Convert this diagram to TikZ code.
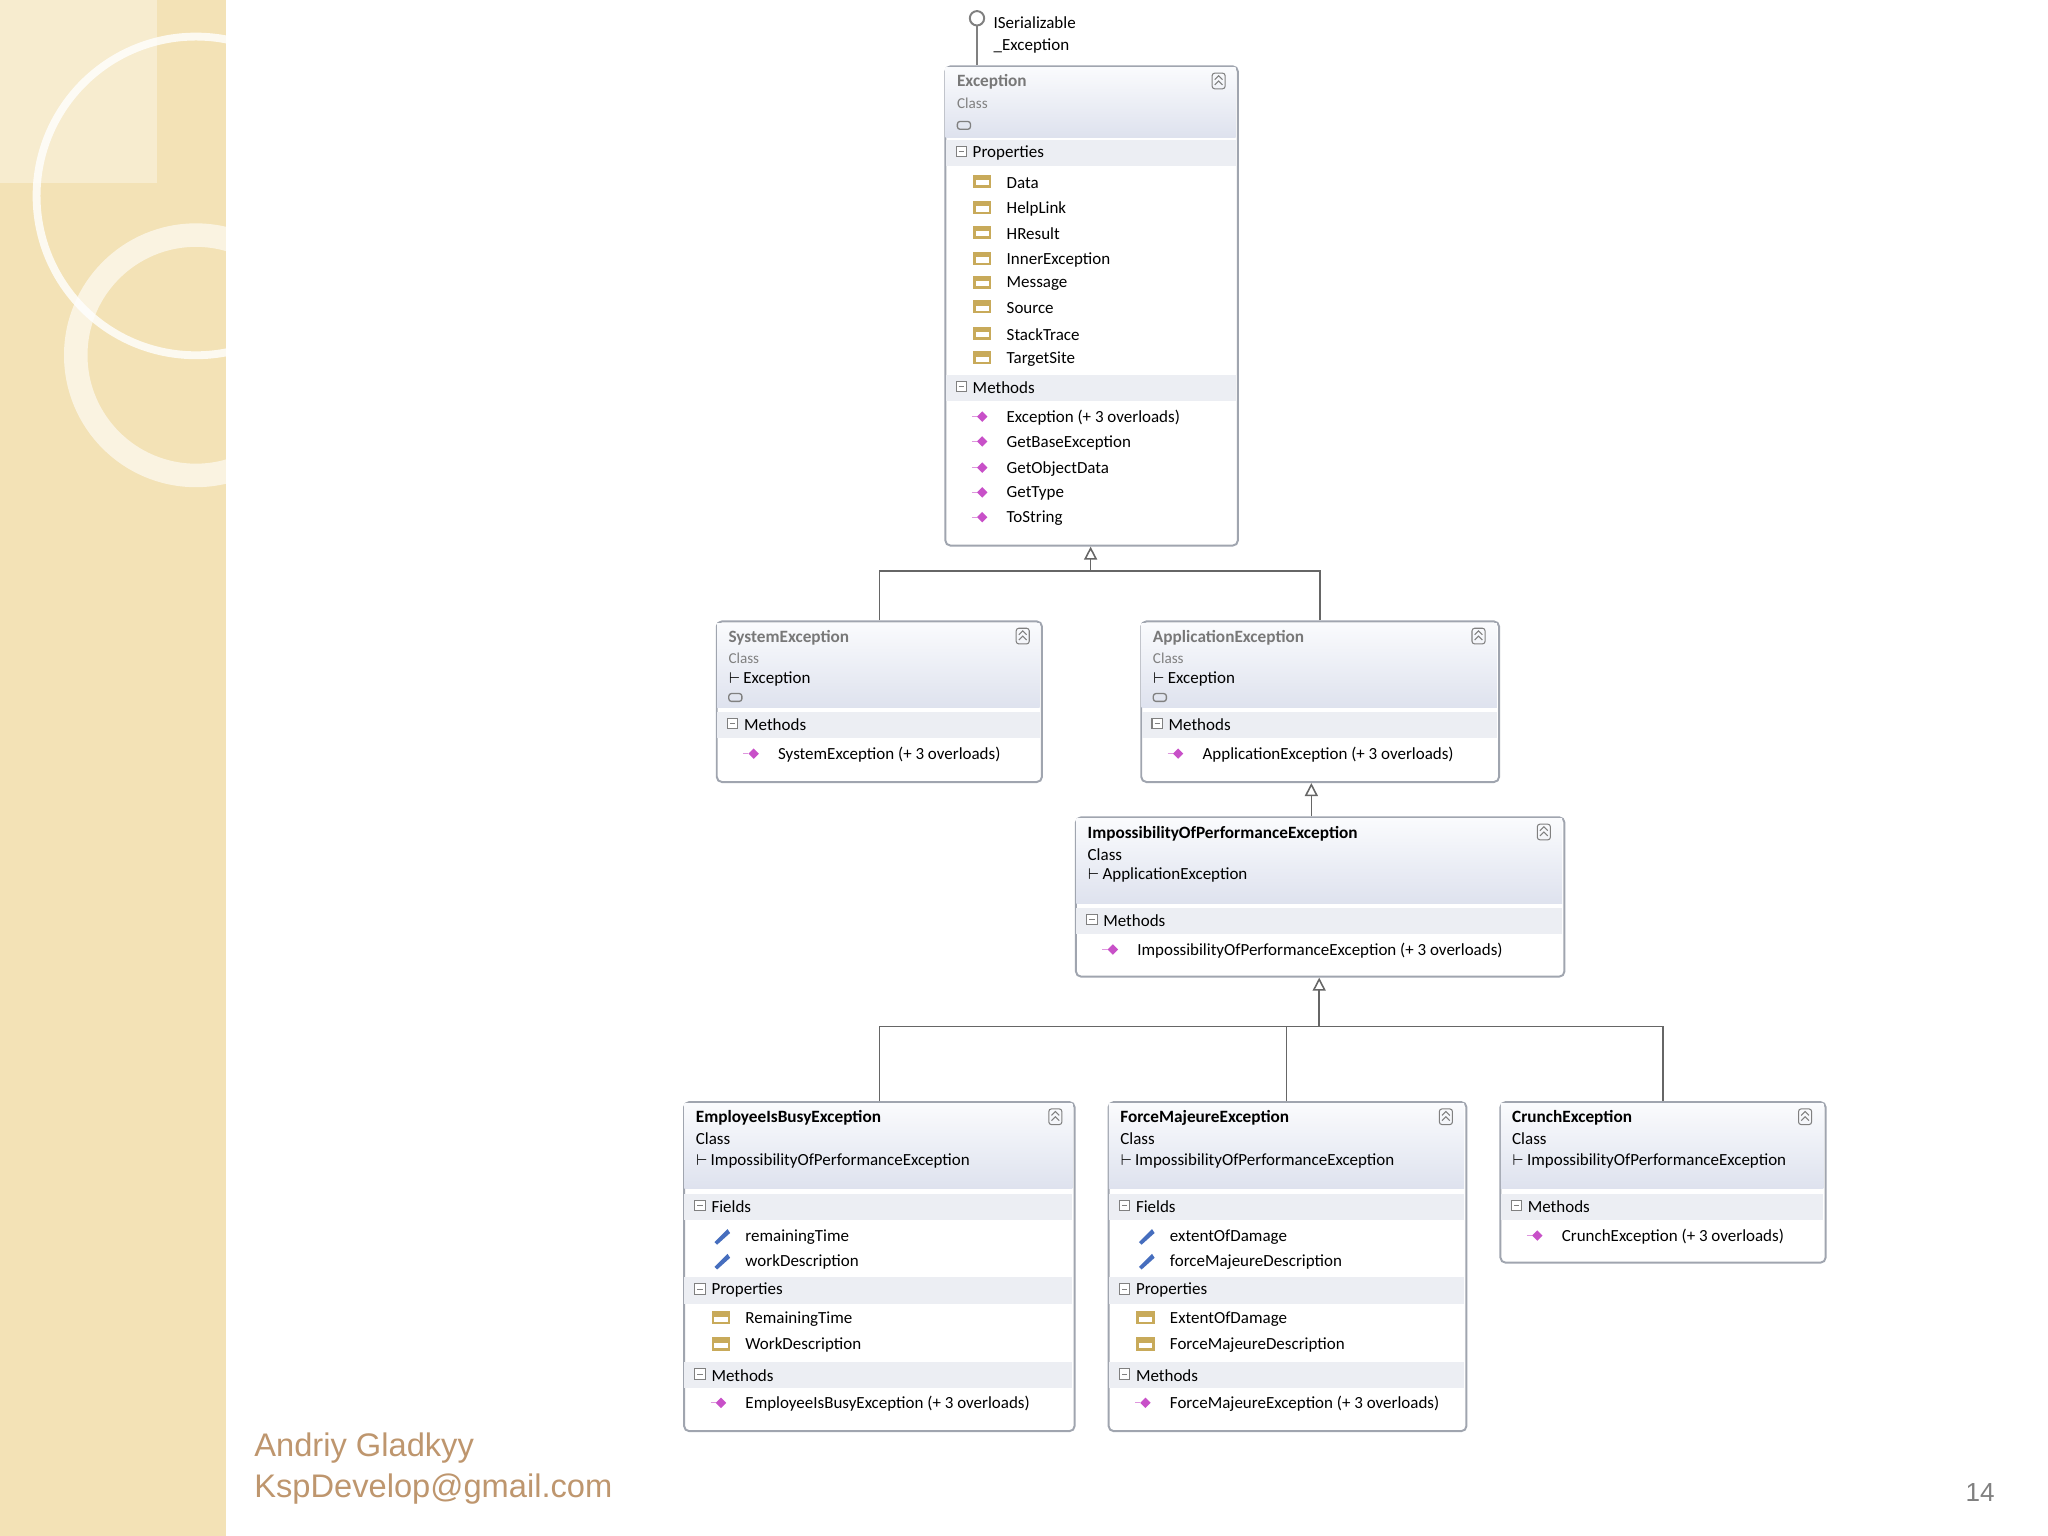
\documentclass[tikz,border=0pt]{standalone}
\usepackage{fontspec}
\setmainfont{Carlito}
\newfontfamily\footfont{Liberation Sans}
\usetikzlibrary{arrows.meta}
\definecolor{strip}{RGB}{243,226,182}
\definecolor{boxline}{RGB}{160,165,175}
\definecolor{band}{RGB}{236,238,243}
\definecolor{hdrtop}{RGB}{250,251,253}
\definecolor{hdrbot}{RGB}{222,226,238}
\definecolor{greytitle}{RGB}{120,120,120}
\definecolor{footcol}{RGB}{190,150,110}
\definecolor{mpink}{RGB}{200,80,200}
\definecolor{pyel}{RGB}{200,170,90}
\definecolor{fblue}{RGB}{70,110,190}
\tikzset{
  every picture/.style={line width=0.75pt},
  cbox/.style={draw=boxline, rounded corners=2pt, fill=white, inner sep=0pt},
  lbl/.style={anchor=west, inner sep=0pt, font=\fontsize{6.5}{7}\selectfont},
  ttl/.style={lbl, font=\fontsize{6.6}{7}\selectfont\bfseries},
  sub/.style={lbl, font=\fontsize{5.8}{7}\selectfont, text=gray},
  gen/.style={draw=gray!80!black, line width=0.6pt},
  inh/.style={gen, -{Triangle[open, length=5pt, width=5pt]}}
}
% section band: x1, x2, y, text, name
\newcommand{\secband}[5]{%
  \fill[band] (#1+1,#3-10) rectangle (#2-1,#3+10);
  \draw[gray, line width=0.4pt, fill=white] (#1+9,#3-5) rectangle (#1+17,#3+3);
  \draw[gray, line width=0.4pt] (#1+11,#3-1) -- (#1+15,#3-1);
  \node[lbl] (#5) at (#1+21,#3) {#4};}
% member row: icon x, y, text, kind (m/p/f), name
\newcommand{\memrow}[5]{%
  \ifx m#4\fill[mpink] (#1,#2-5) -- (#1+4,#2-1) -- (#1,#2+3) -- (#1-4,#2-1) -- cycle;
    \draw[mpink!60, line width=0.5pt] (#1-8,#2-1) -- (#1-4,#2-1);\fi
  \ifx p#4\fill[pyel] (#1-7,#2-6) rectangle (#1+7,#2+4);
    \fill[white] (#1-5,#2-2) rectangle (#1+5,#2+2);\fi
  \ifx f#4\fill[fblue] (#1-5,#2+4) -- (#1+5,#2-6) -- (#1+7,#2-3) -- (#1-3,#2+6) -- cycle;\fi
  \node[lbl] (#5) at (#1+18,#2) {#3};}
% collapse button: x, y
\newcommand{\cbtn}[2]{%
  \draw[gray, line width=0.4pt, rounded corners=1pt] (#1-5,#2-6) rectangle (#1+5,#2+6);
  \draw[gray, line width=0.4pt] (#1-3,#2-1) -- (#1,#2-4) -- (#1+3,#2-1) (#1-3,#2+3) -- (#1,#2) -- (#1+3,#2+3);}

\begin{document}
\begin{tikzpicture}[x=0.5pt,y=0.5pt,yscale=-1]
\useasboundingbox (0,0) rectangle (1568,1176);

% background strip
\fill[strip] (0,0) rectangle (173,1176);
\begin{scope}
\clip (0,0) rectangle (173,1176);
\fill[white, opacity=0.35] (0,0) rectangle (120,140);
\draw[white, opacity=0.8, line width=3pt] (150,150) circle (122);
\draw[white, opacity=0.6, line width=9pt] (150,272) circle (92);
\end{scope}

% footer
\node[anchor=west, inner sep=0pt, font=\footfont\fontsize{12.5}{14}\selectfont, text=footcol] (author) at (194,1109) {Andriy Gladkyy};
\node[anchor=west, inner sep=0pt, font=\footfont\fontsize{12.5}{14}\selectfont, text=footcol] (mail) at (194,1140) {KspDevelop@gmail.com};
\node[inner sep=0pt, font=\footfont\fontsize{10}{12}\selectfont, text=gray] (page) at (1516,1143) {14};

%Shape: Exception
\node[cbox, minimum width=112pt, minimum height=183.5pt, anchor=north west] (exc) at (723,50) {};
\shade[top color=hdrtop, bottom color=hdrbot] (724,52) rectangle (946,105);
\node[ttl, text=greytitle] (excT) at (732,63) {Exception};
\node[sub] (excC) at (732,79) {Class};
\draw[gray, line width=0.5pt, rounded corners=1pt] (733,93) rectangle (743,99);
\cbtn{933}{62}
\secband{723}{947}{117}{Properties}{excP}
\foreach \t/\y [count=\i] in {Data/140,HelpLink/160,HResult/179,InnerException/199,Message/217,Source/236,StackTrace/256,TargetSite/275}
  {\memrow{752}{\y}{\t}{p}{excp\i}}
\secband{723}{947}{297}{Methods}{excM}
\foreach \t/\y [count=\i] in {{Exception (+ 3 overloads)}/320,GetBaseException/339,GetObjectData/359,GetType/378,ToString/397}
  {\memrow{752}{\y}{\t}{m}{excm\i}}

% lollipop
\node[draw=gray, circle, minimum size=5.5pt, inner sep=0pt, fill=white] (iser) at (748,14) {};
\coordinate (iserB) at (748,50);
\draw[gray] (iser) -- (iserB);
\node[lbl] (iserT) at (760,17) {ISerializable};
\node[lbl] (iserT2) at (760,35) {\_Exception};

%Shape: SystemException
\node[cbox, minimum width=124.5pt, minimum height=61.5pt, anchor=north west] (sys) at (548,475) {};
\shade[top color=hdrtop, bottom color=hdrbot] (549,477) rectangle (796,542);
\node[ttl, text=greytitle] (sysT) at (557,488) {SystemException};
\node[sub] (sysC) at (557,504) {Class};
\node[lbl] (sysB) at (557,520) {$\vdash$\,Exception};
\draw[gray, line width=0.5pt, rounded corners=1pt] (558,531) rectangle (568,537);
\cbtn{783}{487}
\secband{548}{797}{555}{Methods}{sysM}
\memrow{577}{578}{SystemException (+ 3 overloads)}{m}{sysm1}

%Shape: ApplicationException
\node[cbox, minimum width=137pt, minimum height=61.5pt, anchor=north west] (app) at (873,475) {};
\shade[top color=hdrtop, bottom color=hdrbot] (874,477) rectangle (1146,542);
\node[ttl, text=greytitle] (appT) at (882,488) {ApplicationException};
\node[sub] (appC) at (882,504) {Class};
\node[lbl] (appB) at (882,520) {$\vdash$\,Exception};
\draw[gray, line width=0.5pt, rounded corners=1pt] (883,531) rectangle (893,537);
\cbtn{1132}{487}
\secband{873}{1147}{555}{Methods}{appM}
\memrow{902}{578}{ApplicationException (+ 3 overloads)}{m}{appm1}

%Shape: ImpossibilityOfPerformanceException
\node[cbox, minimum width=187pt, minimum height=61pt, anchor=north west] (imp) at (823,625) {};
\shade[top color=hdrtop, bottom color=hdrbot] (824,627) rectangle (1196,692);
\node[ttl] (impT) at (832,638) {ImpossibilityOfPerformanceException};
\node[lbl] (impC) at (832,654) {Class};
\node[lbl] (impB) at (832,670) {$\vdash$\,ApplicationException};
\cbtn{1182}{637}
\secband{823}{1197}{705}{Methods}{impM}
\memrow{852}{728}{ImpossibilityOfPerformanceException (+ 3 overloads)}{m}{impm1}

%Shape: EmployeeIsBusyException
\node[cbox, minimum width=149.5pt, minimum height=126pt, anchor=north west] (emp) at (523,843) {};
\shade[top color=hdrtop, bottom color=hdrbot] (524,845) rectangle (821,910);
\node[ttl] (empT) at (532,856) {EmployeeIsBusyException};
\node[lbl] (empC) at (532,872) {Class};
\node[lbl] (empB) at (532,889) {$\vdash$\,ImpossibilityOfPerformanceException};
\cbtn{808}{855}
\secband{523}{822}{924}{Fields}{empF}
\memrow{552}{947}{remainingTime}{f}{empf1}
\memrow{552}{966}{workDescription}{f}{empf2}
\secband{523}{822}{988}{Properties}{empP}
\memrow{552}{1010}{RemainingTime}{p}{empp1}
\memrow{552}{1030}{WorkDescription}{p}{empp2}
\secband{523}{822}{1053}{Methods}{empM}
\memrow{552}{1075}{EmployeeIsBusyException (+ 3 overloads)}{m}{empm1}

%Shape: ForceMajeureException
\node[cbox, minimum width=137pt, minimum height=126pt, anchor=north west] (frc) at (848,843) {};
\shade[top color=hdrtop, bottom color=hdrbot] (849,845) rectangle (1121,910);
\node[ttl] (frcT) at (857,856) {ForceMajeureException};
\node[lbl] (frcC) at (857,872) {Class};
\node[lbl] (frcB) at (857,889) {$\vdash$\,ImpossibilityOfPerformanceException};
\cbtn{1107}{855}
\secband{848}{1122}{924}{Fields}{frcF}
\memrow{877}{947}{extentOfDamage}{f}{frcf1}
\memrow{877}{966}{forceMajeureDescription}{f}{frcf2}
\secband{848}{1122}{988}{Properties}{frcP}
\memrow{877}{1010}{ExtentOfDamage}{p}{frcp1}
\memrow{877}{1030}{ForceMajeureDescription}{p}{frcp2}
\secband{848}{1122}{1053}{Methods}{frcM}
\memrow{877}{1075}{ForceMajeureException (+ 3 overloads)}{m}{frcm1}

%Shape: CrunchException
\node[cbox, minimum width=124.5pt, minimum height=61.5pt, anchor=north west] (cru) at (1148,843) {};
\shade[top color=hdrtop, bottom color=hdrbot] (1149,845) rectangle (1396,910);
\node[ttl] (cruT) at (1157,856) {CrunchException};
\node[lbl] (cruC) at (1157,872) {Class};
\node[lbl] (cruB) at (1157,889) {$\vdash$\,ImpossibilityOfPerformanceException};
\cbtn{1382}{855}
\secband{1148}{1397}{924}{Methods}{cruM}
\memrow{1177}{947}{CrunchException (+ 3 overloads)}{m}{crum1}

% inheritance lines
\coordinate (j1) at (835,437);
\coordinate (j2) at (1010,786);
\coordinate (impTop) at (1004,625);
\coordinate (frcTop) at (985,843);
\draw[gen] (sys.north) |- (j1);
\draw[gen] (app.north) |- (j1);
\draw[inh] (j1) -- (exc.south -| j1);
\draw[inh] (impTop) -- (app.south -| impTop);
\draw[gen] (emp.north) |- (j2);
\draw[gen] (cru.north) |- (j2);
\draw[gen] (frcTop) -- (frcTop |- j2);
\draw[inh] (j2) -- (imp.south -| j2);
\end{tikzpicture}
\end{document}
